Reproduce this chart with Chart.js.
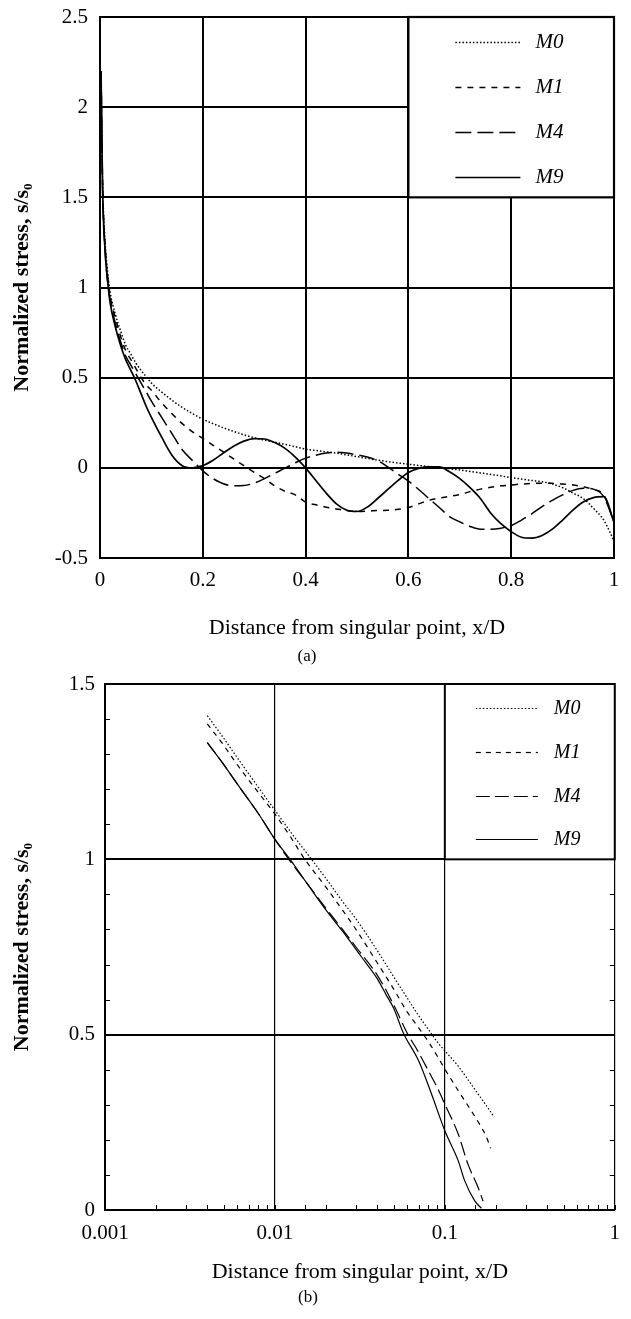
<!DOCTYPE html>
<html>
<head>
<meta charset="utf-8">
<script src="https://cdn.jsdelivr.net/npm/chart.js@4.4.1/dist/chart.umd.min.js"></script>
<style>
  html, body { margin: 0; padding: 0; background: #fff; }
  body { width: 631px; height: 1319px; position: relative; overflow: hidden; }
  #wa { position: absolute; left: 0; top: 0; }
  #wb { position: absolute; left: 0; top: 670px; }
</style>
</head>
<body>
<canvas id="wa" width="631" height="670"></canvas>
<canvas id="wb" width="631" height="649"></canvas>
<script>
// ---------------- DATA ----------------
const seriesNames = ['M0', 'M1', 'M4', 'M9'];

// Figure (a): linear distance x/D
const xA = [0.002, 0.005, 0.01, 0.015, 0.02, 0.03, 0.04, 0.05, 0.06, 0.07, 0.08, 0.09, 0.1,
  0.12, 0.14, 0.16, 0.18, 0.2, 0.22, 0.24, 0.26, 0.28, 0.3, 0.32, 0.34, 0.36, 0.38, 0.4,
  0.42, 0.44, 0.46, 0.48, 0.5, 0.52, 0.54, 0.56, 0.58, 0.6,
  0.62, 0.64, 0.66, 0.68, 0.7, 0.72, 0.74, 0.76, 0.78, 0.8,
  0.82, 0.84, 0.86, 0.88, 0.9, 0.92, 0.94, 0.96, 0.98, 1.0];
const aM0 = [2.2, 1.6, 1.25, 1.08, 0.97, 0.85, 0.76, 0.68, 0.63, 0.58, 0.54, 0.505, 0.47,
  0.42, 0.375, 0.335, 0.3, 0.27, 0.245, 0.222, 0.202, 0.183, 0.167, 0.154, 0.142, 0.13, 0.117, 0.104,
  0.096, 0.089, 0.082, 0.072, 0.062, 0.052, 0.043, 0.034, 0.027, 0.02,
  0.013, 0.007, 0.002, -0.005, -0.012, -0.02, -0.028, -0.036, -0.045, -0.054,
  -0.062, -0.07, -0.077, -0.09, -0.11, -0.14, -0.17, -0.225, -0.29, -0.405];
const aM1 = [2.2, 1.58, 1.23, 1.06, 0.95, 0.83, 0.73, 0.65, 0.6, 0.55, 0.5, 0.46, 0.43,
  0.36, 0.3, 0.245, 0.2, 0.163, 0.125, 0.088, 0.05, 0.012, -0.025, -0.06, -0.1, -0.13, -0.15, -0.19,
  -0.205, -0.218, -0.228, -0.237, -0.242, -0.24, -0.237, -0.235, -0.23, -0.22,
  -0.2, -0.18, -0.168, -0.158, -0.148, -0.132, -0.118, -0.108, -0.1, -0.095,
  -0.09, -0.087, -0.085, -0.086, -0.09, -0.095, -0.105, -0.12, -0.15, -0.3];
const aM4 = [2.2, 1.55, 1.2, 1.03, 0.93, 0.8, 0.7, 0.62, 0.57, 0.52, 0.47, 0.42, 0.37,
  0.28, 0.19, 0.1, 0.04, -0.017, -0.06, -0.088, -0.1, -0.098, -0.085, -0.06, -0.03, -0.002, 0.028, 0.054,
  0.07, 0.082, 0.087, 0.082, 0.072, 0.06, 0.04, 0.005, -0.035, -0.074,
  -0.12, -0.17, -0.22, -0.27, -0.3, -0.325, -0.34, -0.34, -0.335, -0.32,
  -0.29, -0.255, -0.215, -0.18, -0.15, -0.125, -0.113, -0.118, -0.16, -0.3];
const aM9 = [2.2, 1.55, 1.2, 1.03, 0.91, 0.78, 0.68, 0.6, 0.54, 0.48, 0.41, 0.34, 0.28,
  0.17, 0.07, 0.012, 0.0, 0.012, 0.042, 0.082, 0.12, 0.148, 0.162, 0.16, 0.14, 0.108, 0.06, 0.0,
  -0.07, -0.14, -0.2, -0.235, -0.242, -0.218, -0.17, -0.12, -0.07, -0.026,
  -0.003, 0.005, 0.005, -0.022, -0.06, -0.11, -0.17, -0.25, -0.31, -0.354,
  -0.385, -0.39, -0.375, -0.34, -0.29, -0.235, -0.19, -0.165, -0.16, -0.3];
const ticksAX = [0, 0.2, 0.4, 0.6, 0.8, 1];
const ticksAY = [-0.5, 0, 0.5, 1, 1.5, 2, 2.5];

// Figure (b): logarithmic distance x/D
const bxM0 = [0.004, 0.005, 0.006, 0.008, 0.01, 0.0125, 0.015, 0.02, 0.025, 0.03, 0.04, 0.05, 0.06, 0.07, 0.08, 0.09, 0.1, 0.12, 0.14, 0.16, 0.18, 0.195];
const bM0  = [1.41, 1.345, 1.29, 1.205, 1.14, 1.075, 1.025, 0.945, 0.88, 0.83, 0.74, 0.665, 0.605, 0.555, 0.515, 0.48, 0.454, 0.41, 0.365, 0.325, 0.29, 0.265];
const bxM1 = [0.004, 0.005, 0.006, 0.008, 0.01, 0.0125, 0.015, 0.02, 0.025, 0.03, 0.04, 0.05, 0.06, 0.07, 0.08, 0.09, 0.1, 0.12, 0.14, 0.16, 0.175, 0.186];
const bM1  = [1.386, 1.325, 1.27, 1.19, 1.129, 1.06, 1.0, 0.92, 0.855, 0.8, 0.705, 0.63, 0.565, 0.52, 0.48, 0.44, 0.402, 0.34, 0.29, 0.245, 0.21, 0.176];
const bxM4 = [0.004, 0.005, 0.006, 0.008, 0.01, 0.0125, 0.015, 0.02, 0.025, 0.03, 0.04, 0.05, 0.06, 0.07, 0.08, 0.09, 0.1, 0.12, 0.137, 0.157, 0.168];
const bM4  = [1.333, 1.27, 1.215, 1.13, 1.057, 0.99, 0.94, 0.86, 0.8, 0.75, 0.67, 0.585, 0.505, 0.45, 0.397, 0.35, 0.302, 0.216, 0.13, 0.064, 0.025];
const bxM9 = [0.004, 0.005, 0.006, 0.008, 0.01, 0.0125, 0.015, 0.02, 0.025, 0.0325, 0.04, 0.045, 0.05, 0.057, 0.07, 0.0836, 0.1, 0.12, 0.131, 0.15, 0.164];
const bM9  = [1.333, 1.27, 1.215, 1.13, 1.057, 0.995, 0.94, 0.855, 0.795, 0.72, 0.66, 0.615, 0.575, 0.505, 0.426, 0.33, 0.226, 0.14, 0.083, 0.026, 0.005];
const ticksBY = [0, 0.5, 1, 1.5];

const xTitle = 'Distance from singular point, x/D';
const yTitle = 'Normalized stress, s/s\u2080';
const panelA = '(a)';
const panelB = '(b)';

// ---------------- STYLE ----------------
const SERIF = '"Liberation Serif", "Times New Roman", serif';
Chart.defaults.color = '#000';
Chart.defaults.font.family = SERIF;

const styleA = [
  { borderDash: [1.5, 2], borderWidth: 1.5 },
  { borderDash: [6, 6], borderWidth: 1.5 },
  { borderDash: [16, 6], borderWidth: 1.5 },
  { borderDash: [], borderWidth: 1.7 }
];
const styleB = [
  { borderDash: [1.5, 2], borderWidth: 1.2 },
  { borderDash: [5, 5], borderWidth: 1.2 },
  { borderDash: [14, 5], borderWidth: 1.2 },
  { borderDash: [], borderWidth: 1.2 }
];

const zip = (xs, ys) => xs.map((x, i) => ({ x: x, y: ys[i] }));
const near = (a, b) => Math.abs(a - b) < 1e-6;
const isPow10 = v => near(Math.log10(v), Math.round(Math.log10(v)));
const fmt = v => String(Number(v.toPrecision(6)));

function makeDatasets(pairs, styles) {
  return pairs.map((p, i) => Object.assign({
    label: seriesNames[i],
    data: zip(p[0], p[1]),
    borderColor: '#000',
    backgroundColor: '#000',
    pointRadius: 0,
    fill: false,
    tension: 0.4,
    cubicInterpolationMode: 'monotone'
  }, styles[i]));
}

// plugin: legend box inside plot + inward minor ticks
const framePlugin = {
  id: 'frame',
  afterDraw(chart, args, opts) {
    const { ctx, chartArea: a, scales } = chart;
    ctx.save();
    if (opts.minor) {
      ctx.strokeStyle = '#000';
      ctx.lineWidth = 1;
      ctx.setLineDash([]);
      const L = opts.minor;
      scales.y.ticks.forEach(t => {
        const py = Math.round(scales.y.getPixelForValue(t.value)) + 0.5;
        ctx.beginPath();
        ctx.moveTo(a.left, py); ctx.lineTo(a.left + L, py);
        ctx.moveTo(a.right, py); ctx.lineTo(a.right - L, py);
        ctx.stroke();
      });
      scales.x.ticks.forEach(t => {
        const px = Math.round(scales.x.getPixelForValue(t.value)) + 0.5;
        ctx.beginPath();
        ctx.moveTo(px, a.bottom); ctx.lineTo(px, a.bottom - L);
        ctx.stroke();
      });
    }
    const lg = opts.legend;
    const left = scales.x.getPixelForValue(lg.fromX);
    const bottom = scales.y.getPixelForValue(lg.toY);
    const top = a.top, right = a.right;
    ctx.fillStyle = '#fff';
    ctx.fillRect(left, top, right - left, bottom - top);
    ctx.strokeStyle = '#000';
    ctx.lineWidth = lg.border;
    ctx.setLineDash([]);
    ctx.strokeRect(left, top, right - left, bottom - top);
    const n = chart.data.datasets.length;
    const gap = (bottom - top) / n;
    chart.data.datasets.forEach((ds, i) => {
      const cy = Math.round(top + gap * (i + 0.5) + lg.dy) + 0.5;
      ctx.setLineDash(ds.borderDash || []);
      ctx.lineWidth = ds.borderWidth;
      ctx.strokeStyle = ds.borderColor;
      ctx.beginPath();
      ctx.moveTo(left + lg.sx0, cy);
      ctx.lineTo(left + lg.sx1, cy);
      ctx.stroke();
      ctx.setLineDash([]);
      ctx.font = lg.font;
      ctx.fillStyle = '#000';
      ctx.textBaseline = 'middle';
      ctx.textAlign = 'left';
      ctx.fillText(ds.label, left + lg.tx, cy);
    });
    ctx.restore();
  }
};

const common = {
  responsive: false,
  animation: false,
  devicePixelRatio: 1,
  events: []
};

// ---------------- CHART (a) ----------------
new Chart(document.getElementById('wa'), {
  type: 'line',
  data: { datasets: makeDatasets([[xA, aM0], [xA, aM1], [xA, aM4], [xA, aM9]], styleA) },
  plugins: [framePlugin],
  options: Object.assign({}, common, {
    layout: { padding: { left: 0, top: 17, right: 17, bottom: 3.6 } },
    scales: {
      x: {
        type: 'linear', min: 0, max: 1,
        afterBuildTicks: s => { s.ticks = ticksAX.map(v => ({ value: v })); },
        afterFit: s => { s.height = 88; },
        ticks: { callback: v => fmt(v), font: { size: 21 }, padding: 10, maxRotation: 0, color: '#000' },
        grid: { color: '#000', lineWidth: 2, drawTicks: false },
        border: { color: '#000', width: 2 },
        title: { display: true, text: xTitle, font: { size: 22 }, padding: { top: 0, bottom: 5 }, color: '#000' }
      },
      y: {
        type: 'linear', min: -0.5, max: 2.5,
        afterBuildTicks: s => { s.ticks = ticksAY.map(v => ({ value: v })); },
        afterFit: s => { s.width = 100; s.paddingTop = 0; s.paddingBottom = 0; },
        ticks: { callback: v => fmt(v), font: { size: 21 }, padding: 12, color: '#000' },
        grid: { color: '#000', lineWidth: 2, drawTicks: false },
        border: { color: '#000', width: 2 },
        title: { display: true, text: yTitle, font: { size: 22, weight: 'bold' }, padding: { top: 9, bottom: 0 }, color: '#000' }
      }
    },
    plugins: {
      legend: { display: false },
      tooltip: { enabled: false },
      title: { display: true, text: panelA, position: 'bottom', font: { size: 17, weight: 'normal' }, padding: 0, color: '#000' },
      frame: {
        legend: { fromX: 0.6, toY: 1.5, border: 2.2, sx0: 47, sx1: 112, tx: 127, dy: 2.5, font: 'italic 21px ' + SERIF }
      }
    }
  })
});

// ---------------- CHART (b) ----------------
new Chart(document.getElementById('wb'), {
  type: 'line',
  data: { datasets: makeDatasets([[bxM0, bM0], [bxM1, bM1], [bxM4, bM4], [bxM9, bM9]], styleB) },
  plugins: [framePlugin],
  options: Object.assign({}, common, {
    layout: { padding: { left: 0, top: 14, right: 15, bottom: 10.8 } },
    scales: {
      x: {
        type: 'logarithmic', min: 0.001, max: 1,
        afterFit: s => { s.height = 77.8; },
        ticks: { autoSkip: false, maxRotation: 0, callback: v => (isPow10(v) ? fmt(v) : ''), font: { size: 21 }, padding: 11, color: '#000' },
        grid: { color: c => (c.tick && isPow10(c.tick.value) ? '#000' : 'rgba(0,0,0,0)'), lineWidth: 1.2, drawTicks: false },
        border: { color: '#000', width: 2 },
        title: { display: true, text: xTitle, font: { size: 22 }, padding: { top: 0, bottom: 2.6 }, color: '#000' }
      },
      y: {
        type: 'linear', min: 0, max: 1.5,
        ticks: {
          stepSize: 0.1, autoSkip: false, font: { size: 21 }, padding: 10, color: '#000',
          callback: v => (ticksBY.some(t => near(t, v)) ? fmt(v) : '')
        },
        afterFit: s => { s.width = 105; s.paddingTop = 0; s.paddingBottom = 0; },
        grid: { color: c => (c.tick && ticksBY.some(t => near(t, c.tick.value)) ? '#000' : 'rgba(0,0,0,0)'), lineWidth: 2, drawTicks: false },
        border: { color: '#000', width: 2 },
        title: { display: true, text: yTitle, font: { size: 22, weight: 'bold' }, padding: { top: 9, bottom: 0 }, color: '#000' }
      }
    },
    plugins: {
      legend: { display: false },
      tooltip: { enabled: false },
      title: { display: true, text: panelB, position: 'bottom', font: { size: 17, weight: 'normal' }, padding: 0, color: '#000' },
      frame: {
        minor: 5,
        legend: { fromX: 0.1, toY: 1.0, border: 2, sx0: 31, sx1: 93, tx: 109, dy: 2, font: 'italic 20px ' + SERIF }
      }
    }
  })
});
</script>
</body>
</html>
